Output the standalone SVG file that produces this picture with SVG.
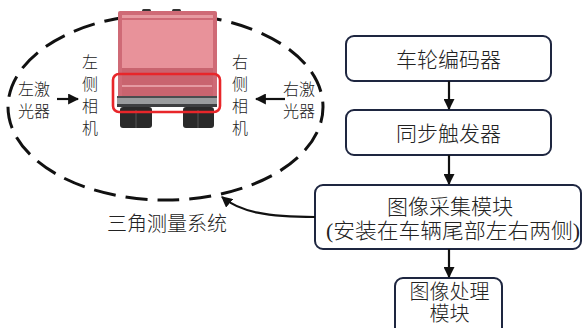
<svg xmlns="http://www.w3.org/2000/svg" width="583" height="328" viewBox="0 0 583 328">
  <style>
    .t { font-family: "Liberation Serif", "Noto Sans CJK SC", serif; font-weight: 300; fill: #222; }
    .box { fill: #fff; stroke: #1e2640; stroke-width: 2; }
    .link { fill: none; stroke: #111; stroke-width: 2.2; }
  </style>
  <defs>
    <marker id="arrow" viewBox="0 0 10 10" refX="9" refY="5" markerWidth="5" markerHeight="5" orient="auto" markerUnits="strokeWidth">
      <path d="M0,0 L10,5 L0,10 z" fill="#111"/>
    </marker>
  </defs>
  <rect width="583" height="328" fill="#fff"/>

  <!-- triangulation system boundary -->
  <g id="triangulation">
    <ellipse cx="165.5" cy="107" rx="157.5" ry="93" fill="none" stroke="#111" stroke-width="3" stroke-dasharray="22 10" stroke-dashoffset="6"/>
    <text class="t" x="167" y="231" font-size="20" text-anchor="middle">三角测量系统</text>
  </g>

  <!-- truck seen from behind -->
  <g id="truck">
    <rect x="142" y="9" width="9" height="4" rx="1.5" fill="#333"/>
    <rect x="172" y="9" width="9" height="4" rx="1.5" fill="#333"/>
    <rect x="118" y="11" width="99" height="87" rx="2" fill="#cf6a76"/>
    <rect x="122" y="15" width="91" height="3" fill="#e79aa1"/>
    <rect x="122" y="20" width="91" height="48" fill="#e8929a"/>
    <rect x="122" y="68" width="91" height="29" fill="#c9646f"/>
    <rect x="122" y="85" width="90" height="2" fill="#e59aa2"/>
    <rect x="117" y="96" width="100" height="11" fill="#9a9c9e"/>
    <rect x="117" y="96" width="100" height="2" fill="#4a4c4e"/>
    <rect x="117" y="104" width="100" height="3" fill="#3e3f41"/>
    <rect x="120" y="107" width="32" height="21" rx="3" fill="#2a2a2a"/>
    <rect x="183" y="107" width="31" height="21" rx="3" fill="#2a2a2a"/>
    <line x1="136" y1="110" x2="136" y2="128" stroke="#555" stroke-width="1"/>
    <line x1="198" y1="110" x2="198" y2="128" stroke="#555" stroke-width="1"/>
    <rect x="113" y="74" width="107" height="38" rx="6" fill="none" stroke="#e8262a" stroke-width="2.6"/>
  </g>

  <!-- side cameras and lasers -->
  <g id="left-laser">
    <text class="t" font-size="16"><tspan x="18" y="95">左激</tspan><tspan x="18" y="117">光器</tspan></text>
  </g>
  <g id="left-camera">
    <text class="t" font-size="16" text-anchor="middle"><tspan x="90" y="68">左</tspan><tspan x="90" y="90">侧</tspan><tspan x="90" y="112">相</tspan><tspan x="90" y="134">机</tspan></text>
  </g>
  <g id="right-camera">
    <text class="t" font-size="16" text-anchor="middle"><tspan x="240" y="68">右</tspan><tspan x="240" y="90">侧</tspan><tspan x="240" y="112">相</tspan><tspan x="240" y="134">机</tspan></text>
  </g>
  <g id="right-laser">
    <text class="t" font-size="16"><tspan x="283" y="95">右激</tspan><tspan x="283" y="117">光器</tspan></text>
  </g>

  <!-- processing chain -->
  <g id="wheel-encoder">
    <rect class="box" x="346" y="36" width="205" height="45" rx="8"/>
    <text class="t" x="448.5" y="67" font-size="21" text-anchor="middle">车轮编码器</text>
  </g>
  <g id="sync-trigger">
    <rect class="box" x="346" y="110" width="205" height="45" rx="8"/>
    <text class="t" x="448.5" y="141" font-size="21" text-anchor="middle">同步触发器</text>
  </g>
  <g id="image-capture">
    <rect class="box" x="315" y="185" width="266" height="64" rx="8"/>
    <text class="t" x="450" y="214" font-size="21" text-anchor="middle">图像采集模块</text>
    <text class="t" x="326" y="238" font-size="21" textLength="254" lengthAdjust="spacingAndGlyphs">(安装在车辆尾部左右两侧)</text>
  </g>
  <g id="image-processing">
    <rect class="box" x="395" y="278" width="107" height="62" rx="8"/>
    <text class="t" x="449.5" y="299" font-size="20" text-anchor="middle">图像处理</text>
    <text class="t" x="449.5" y="321" font-size="20" text-anchor="middle">模块</text>
  </g>

  <g id="connectors">
    <line class="link" x1="57" y1="99" x2="78" y2="99" marker-end="url(#arrow)"/>
    <line class="link" x1="285" y1="99" x2="256" y2="99" marker-end="url(#arrow)"/>
    <line class="link" x1="449" y1="81" x2="449" y2="109" marker-end="url(#arrow)"/>
    <line class="link" x1="449" y1="155" x2="449" y2="184" marker-end="url(#arrow)"/>
    <line class="link" x1="449" y1="249" x2="449" y2="277" marker-end="url(#arrow)"/>
    <path class="link" d="M315,217 C268,217 240,212 222,197" marker-end="url(#arrow)"/>
  </g>
</svg>
